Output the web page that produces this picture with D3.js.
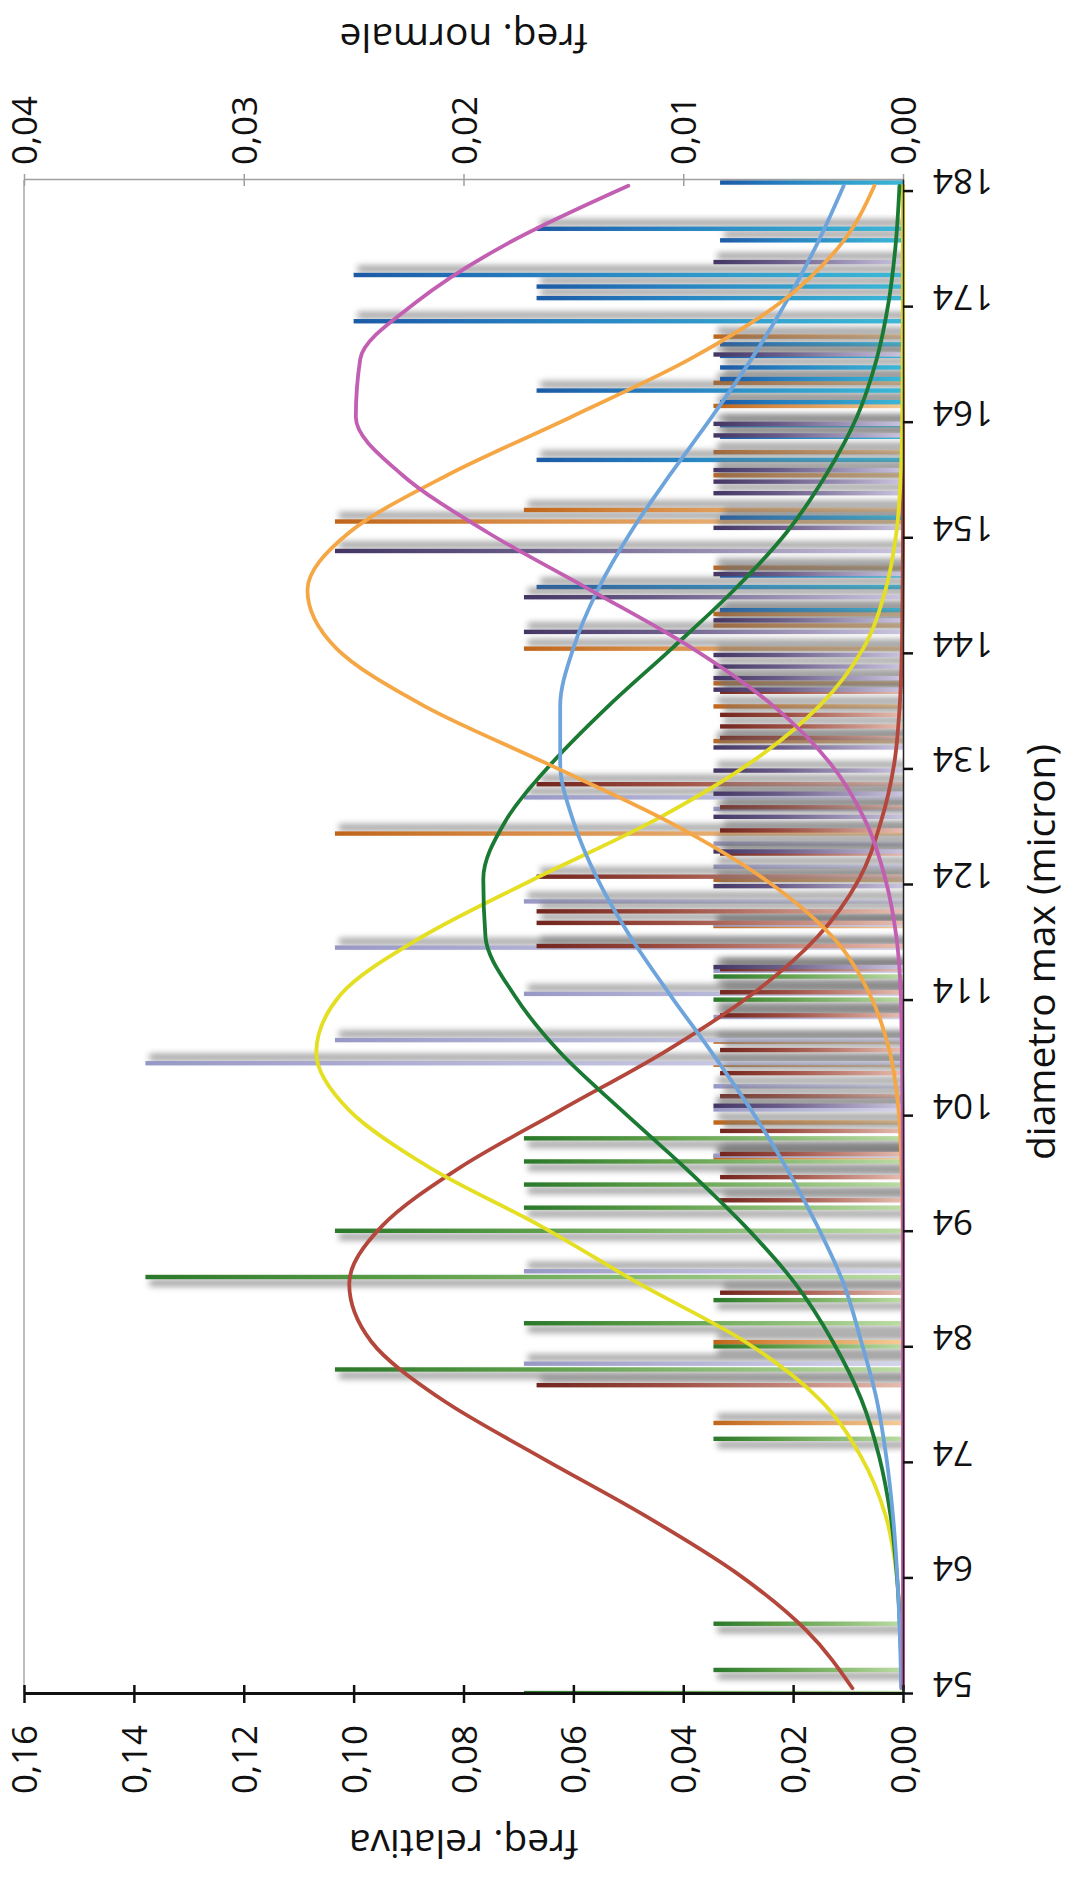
<!DOCTYPE html>
<html><head><meta charset="utf-8">
<script src="https://cdn.jsdelivr.net/npm/d3@7"></script>
<style>body{margin:0;background:#fff}svg{display:block}</style>
</head><body>
<svg id="chart" width="1075" height="1877"></svg>
<script>
// ---------------- DATA ----------------
const categoryTicks = [54,64,74,84,94,104,114,124,134,144,154,164,174,184];
const lastCategory = 184;
const leftTicks = [0,0.02,0.04,0.06,0.08,0.10,0.12,0.14,0.16];
const rightTicks = [0,0.01,0.02,0.03,0.04];

// relative frequencies (bars) [diameter, freq]
const greenBars = [[54,0.069],[56,0.0345],[60,0.0345],[76,0.0345],[82,0.1034],[84,0.0345],[86,0.069],[88,0.0345],[90,0.1379],[94,0.1034],[96,0.069],[98,0.069],[100,0.069],[102,0.069],[114,0.0345],[116,0.0345]];
const orangeBars = [[77,0.0345],[84,0.0345],[100,0.0345],[103,0.0345],[108,0.0345],[110,0.0345],[120,0.0345],[124,0.0345],[128,0.1034],[136,0.0345],[139,0.0345],[141,0.0345],[144,0.069],[146,0.0345],[147,0.0345],[151,0.0345],[155,0.1034],[156,0.069],[159,0.0345],[161,0.0345],[165,0.0345],[167,0.0345],[171,0.0345]];
const lavenderBars = [[82,0.069],[90,0.069],[100,0.0345],[104,0.0345],[106,0.0345],[108,0.1379],[110,0.1034],[112,0.0345],[114,0.069],[116,0.0345],[118,0.1034],[120,0.0345],[122,0.069],[125,0.0345],[127,0.0345],[130,0.0345],[131,0.069]];
const maroonBars = [[80,0.0667],[88,0.0333],[96,0.0333],[98,0.0333],[100,0.0333],[102,0.0333],[105,0.0333],[107,0.0333],[109,0.0333],[112,0.0333],[114,0.0333],[116,0.0333],[118,0.0667],[120,0.0667],[121,0.0667],[124,0.0667],[126,0.0333],[128,0.0333],[130,0.0333],[132,0.0667],[136,0.0333],[137,0.0333],[138,0.0333],[140,0.0333]];
const blueBars = [[147,0.0333],[149,0.0667],[150,0.0333],[155,0.0333],[160,0.0667],[162,0.0333],[163,0.0333],[165,0.0333],[166,0.0667],[167,0.0333],[168,0.0333],[169,0.0333],[170,0.0333],[172,0.1],[174,0.0667],[175,0.0667],[176,0.1],[179,0.0333],[180,0.0667],[184,0.0333]];
const purpleBars = [[104,0.0345],[116,0.0345],[123,0.0345],[126,0.0345],[129,0.0345],[131,0.0345],[133,0.0345],[135,0.0345],[140,0.0345],[141,0.0345],[142,0.0345],[143,0.0345],[145,0.069],[146,0.0345],[148,0.069],[150,0.0345],[152,0.1034],[154,0.0345],[157,0.0345],[158,0.0345],[159,0.0345],[162,0.0345],[163,0.0345],[169,0.0345],[177,0.0345]];

// normal frequencies (curves), sampled every 5 categories
const curveX = [54,59,64,69,74,79,84,89,94,99,104,109,114,119,124,129,134,139,144,149,154,159,164,169,174,179,184];
const curveBrown   = [0.0023,0.0044,0.0076,0.0118,0.0165,0.0210,0.0242,0.0252,0.0237,0.0202,0.0156,0.0109,0.0069,0.0039,0.0020,0.0010,0.0004,0.00015,0.00005,0.00002,0,0,0,0,0,0,0];
const curveYellow  = [0.00004,0.00012,0.0003,0.0008,0.0019,0.0038,0.0072,0.0120,0.0165,0.0215,0.0252,0.0267,0.0256,0.0219,0.0168,0.0114,0.0070,0.0038,0.0018,0.0008,0.0003,0.0001,0.00003,0.00001,0,0,0];
const curveGreen   = [0.00006,0.00013,0.00029,0.00057,0.00108,0.0019,0.0032,0.0049,0.0072,0.0099,0.0128,0.0156,0.0177,0.0190,0.0191,0.0181,0.0160,0.0134,0.0105,0.0077,0.0053,0.0035,0.0021,0.0012,0.00065,0.00033,0.00016];
const curveBlue    = [0.00008,0.00015,0.00027,0.00046,0.00076,0.0012,0.0019,0.0027,0.0039,0.0053,0.0069,0.0087,0.0106,0.0124,0.0139,0.0150,0.0156,0.0156,0.0150,0.0139,0.0124,0.0106,0.0087,0.0069,0.0053,0.0039,0.0027];
const curveOrange  = [0,0,0,0,0,0,0.00001,0.00001,0.00002,0.00007,0.0002,0.0006,0.0015,0.0032,0.0063,0.0107,0.0162,0.0218,0.0258,0.0271,0.0252,0.0207,0.0151,0.0097,0.0055,0.0028,0.0013];
const curveMagenta = [0,0,0,0,0,0,0,0,0,0.00001,0.00002,0.00005,0.0001,0.0003,0.0008,0.0017,0.0033,0.0059,0.0096,0.0142,0.0189,0.0228,0.0249,0.0247,0.0221,0.0180,0.0125];

// ---------------- STYLE TABLES ----------------
const barStyles = [
  {data: greenBars,    offset: 0.08, tip: '#2a782a', mid: '#5c9e48', base: '#bcdca4', shadow: -6},
  {data: orangeBars,   offset: 0.45, tip: '#bf651a', mid: '#d98e48', base: '#f4cc98', shadow: 6},
  {data: lavenderBars, offset: 0.58, tip: '#9898c6', mid: '#b0b0d4', base: '#d4d4ea', shadow: 6},
  {data: maroonBars,   offset: 0.72, tip: '#72251e', mid: '#9c4c40', base: '#e6bcb0', shadow: 6},
  {data: blueBars,     offset: 0.78, tip: '#1c5aa6', mid: '#2680c0', base: '#3cb8d6', shadow: 6},
  {data: purpleBars,   offset: 0.90, tip: '#443664', mid: '#6a5c88', base: '#cac4de', shadow: 6}
];
const curveStyles = [
  {vals: curveBrown, color: '#b3473c'},
  {vals: curveYellow, color: '#e4df22'},
  {vals: curveGreen, color: '#1a7a34'},
  {vals: curveBlue, color: '#6ea4dc'},
  {vals: curveOrange, color: '#f5a745'},
  {vals: curveMagenta, color: '#c25fb2'}
];

// ---------------- CHART ----------------
const W = 1514, H = 879;            // un-rotated plot size
const FONT = "'Open Sans', 'Noto Sans', sans-serif";
const svg = d3.select('#chart');
const defs = svg.append('defs');
const filt = defs.append('filter').attr('id','blur').attr('filterUnits','userSpaceOnUse')
  .attr('x',-60).attr('y',-60).attr('width',W+120).attr('height',H+120);
filt.append('feGaussianBlur').attr('stdDeviation',3);
defs.append('clipPath').attr('id','clip').append('rect').attr('x',0).attr('y',0).attr('width',W).attr('height',H);

barStyles.forEach((s,i) => {
  const gr = defs.append('linearGradient').attr('id','grad'+i).attr('x1',0).attr('y1',0).attr('x2',0).attr('y2',1);
  gr.append('stop').attr('offset','0%').attr('stop-color',s.tip);
  gr.append('stop').attr('offset','35%').attr('stop-color',s.mid);
  gr.append('stop').attr('offset','100%').attr('stop-color',s.base);
});

// whole chart is drawn in its natural orientation, then turned a quarter turn
const g = svg.append('g').attr('transform','translate(24,1694) rotate(-90)');

const x = d3.scaleLinear().domain([categoryTicks[0], lastCategory + 1]).range([0, W]);
const yL = d3.scaleLinear().domain([0, 0.16]).range([H, 0]);
const yR = d3.scaleLinear().domain([0, 0.04]).range([H, 0]);
const fmt = d => d3.format('.2f')(d).replace('.', ',');

g.append('line').attr('x1',0).attr('x2',W).attr('y1',0).attr('y2',0).attr('stroke','#a8a8a8').attr('stroke-width',1.5);

const BW = 4.4;
const plot = g.append('g').attr('clip-path','url(#clip)');
barStyles.forEach((s,i) => {
  const sg = plot.append('g');
  sg.selectAll('rect.sh').data(s.data).join('rect').attr('class','sh')
    .attr('x', d => x(d[0] + s.offset) - BW/2 - 1 + s.shadow)
    .attr('y', d => yL(d[1]) + 4)
    .attr('width', BW + 2).attr('height', d => H - yL(d[1]))
    .attr('fill','#707070').attr('opacity',0.7).attr('filter','url(#blur)');
  sg.selectAll('rect.bar').data(s.data).join('rect').attr('class','bar')
    .attr('x', d => x(d[0] + s.offset) - BW/2)
    .attr('y', d => yL(d[1]))
    .attr('width', BW).attr('height', d => H - yL(d[1]))
    .attr('fill','url(#grad'+i+')');
});

const line = d3.line().x(d => x(d[0] + 0.5)).y(d => yR(d[1])).curve(d3.curveMonotoneX);
curveStyles.forEach(c => {
  g.append('path').datum(curveX.map((v,i) => [v, c.vals[i]]))
    .attr('d', line).attr('fill','none').attr('stroke', c.color).attr('stroke-width',3.8)
    .attr('stroke-linejoin','round').attr('stroke-linecap','round');
});

// primary value axis (left, crossing ticks)
const axL = g.append('g').call(d3.axisLeft(yL).tickValues(leftTicks).tickFormat(fmt).tickSize(9).tickSizeOuter(0).tickPadding(22));
axL.select('.domain').attr('stroke','#111').attr('stroke-width',3);
axL.selectAll('.tick line').attr('x1',9).attr('stroke','#111').attr('stroke-width',2.5);
axL.selectAll('text').attr('font-family',FONT).attr('font-size',35).attr('fill','#111').attr('dy','0.36em');

// secondary value axis (right)
const axR = g.append('g').attr('transform',`translate(${W},0)`)
  .call(d3.axisRight(yR).tickValues(rightTicks).tickFormat(fmt).tickSize(6).tickSizeOuter(0).tickPadding(9));
axR.select('.domain').attr('stroke','#a0a0a0').attr('stroke-width',1.6);
axR.selectAll('.tick line').attr('x1',-6).attr('stroke','#a0a0a0').attr('stroke-width',1.5);
axR.selectAll('text').attr('font-family',FONT).attr('font-size',35).attr('fill','#111').attr('dy','0.36em');

// category axis (bottom)
const axB = g.append('g').attr('transform',`translate(0,${H})`)
  .call(d3.axisBottom(x).tickValues(categoryTicks).tickFormat(d3.format('d')).tickSize(10).tickSizeOuter(0));
axB.select('.domain').attr('stroke','#222').attr('stroke-width',1.5);
axB.selectAll('.tick line').attr('stroke','#111').attr('stroke-width',2.5);
axB.selectAll('text').attr('font-family',FONT).attr('font-size',35).attr('fill','#111')
  .attr('transform','rotate(-90)').attr('text-anchor','end').attr('x',-30).attr('y',9).attr('dy','0.36em');

// axis titles
g.append('text').attr('transform',`translate(-150,${H/2}) rotate(-90)`).attr('text-anchor','middle')
  .attr('dy','0.35em').attr('font-family',FONT).attr('font-size',39).attr('fill','#111').text('freq. relativa');
g.append('text').attr('transform',`translate(${W+142},${H/2}) rotate(-90)`).attr('text-anchor','middle')
  .attr('dy','0.35em').attr('font-family',FONT).attr('font-size',39).attr('fill','#111').text('freq. normale');
g.append('text').attr('transform',`translate(${W/2 - 15},${H+138})`).attr('text-anchor','middle')
  .attr('dy','0.35em').attr('font-family',FONT).attr('font-size',39).attr('fill','#111').text('diametro max (micron)');
</script>
</body></html>
